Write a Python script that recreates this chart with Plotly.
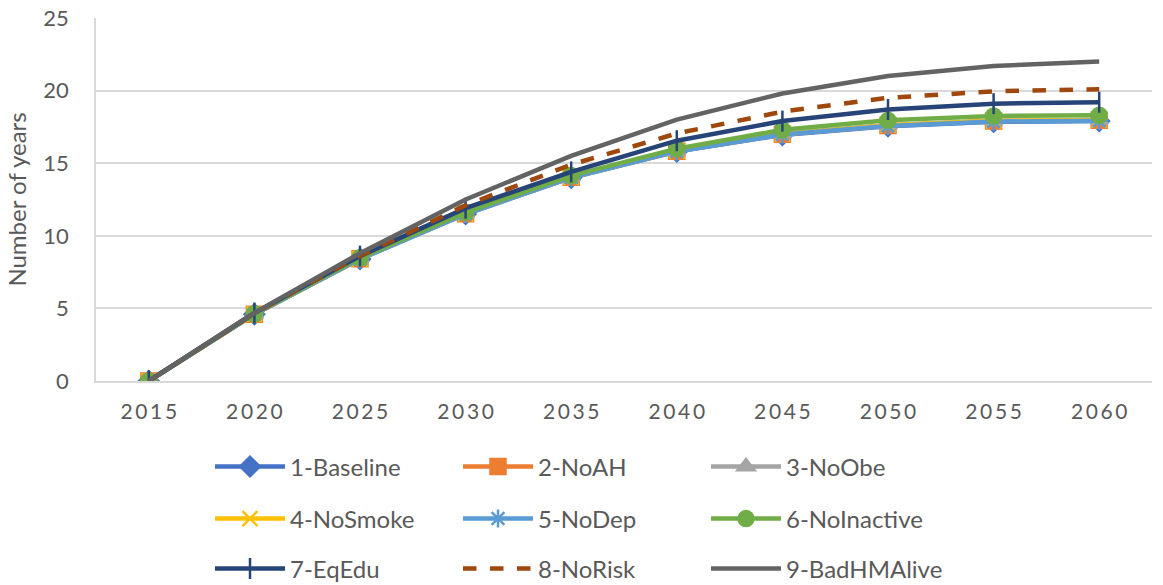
import plotly.graph_objects as go

years = [2015, 2020, 2025, 2030, 2035, 2040, 2045, 2050, 2055, 2060]
tick_labels = ["\u2009".join(str(y)) for y in years]

baseline   = [0, 4.60, 8.40, 11.50, 14.00, 15.80, 16.95, 17.55, 17.85, 17.90]
no_ah      = [0, 4.60, 8.42, 11.52, 14.03, 15.83, 17.00, 17.60, 17.90, 17.95]
no_obe     = [0, 4.60, 8.42, 11.53, 14.04, 15.85, 17.02, 17.62, 17.92, 17.97]
no_smoke   = [0, 4.60, 8.41, 11.52, 14.03, 15.84, 17.00, 17.62, 17.92, 17.97]
no_dep     = [0, 4.60, 8.40, 11.50, 14.01, 15.81, 16.97, 17.57, 17.87, 17.92]
no_inact   = [0, 4.63, 8.48, 11.62, 14.15, 16.00, 17.30, 17.95, 18.25, 18.30]
eq_edu     = [0, 4.68, 8.60, 11.90, 14.40, 16.55, 17.90, 18.70, 19.10, 19.20]
no_risk    = [0, 4.66, 8.62, 12.10, 14.90, 17.05, 18.55, 19.50, 19.95, 20.10]
bad_hm     = [0, 4.70, 8.80, 12.50, 15.50, 18.00, 19.80, 21.00, 21.70, 22.00]

series = [
    ("1-Baseline", baseline, "#4472C4", "diamond", "solid", "legend"),
    ("2-NoAH", no_ah, "#ED7D31", "square", "solid", "legend"),
    ("3-NoObe", no_obe, "#A5A5A5", "triangle-up", "solid", "legend"),
    ("4-NoSmoke", no_smoke, "#FFC000", "x-thin-open", "solid", "legend2"),
    ("5-NoDep", no_dep, "#5B9BD5", "asterisk-open", "solid", "legend2"),
    ("6-NoInactive", no_inact, "#70AD47", "circle", "solid", "legend2"),
    ("7-EqEdu", eq_edu, "#264478", "line-ns-open", "solid", "legend3"),
    ("8-NoRisk", no_risk, "#9E480E", None, "dash", "legend3"),
    ("9-BadHMAlive", bad_hm, "#636363", None, "solid", "legend3"),
]

fig = go.Figure()
for name, vals, color, sym, dash, leg in series:
    if sym is None:
        mode = "lines"
        marker = None
    else:
        mode = "lines+markers"
        marker = dict(symbol=sym, size=15, color=color,
                      line=dict(color=color, width=2.5))
    fig.add_trace(go.Scatter(
        x=years, y=vals, name=name, mode=mode,
        line=dict(color=color, width=4.5, dash=dash),
        marker=marker, legend=leg,
    ))

font_family = "Lato, 'Open Sans', sans-serif"
legend_common = dict(orientation="h", entrywidth=163, entrywidthmode="pixels",
                     xref="container", yref="container",
                     x=210 / 1163, xanchor="left", yanchor="middle",
                     font=dict(family=font_family, size=24, color="#595959"),
                     bgcolor="rgba(0,0,0,0)", itemwidth=70)

fig.update_layout(
    width=1163, height=585,
    margin=dict(l=96, r=11, t=18, b=204, autoexpand=False),
    paper_bgcolor="white", plot_bgcolor="white",
    font=dict(family=font_family, color="#595959"),
    showlegend=True,
    legend=dict(y=1 - 467 / 585, **legend_common),
    legend2=dict(y=1 - 519 / 585, **legend_common),
    legend3=dict(y=1 - 569 / 585, **legend_common),
    xaxis=dict(
        range=[2012.5, 2062.5], tickvals=years, ticktext=tick_labels,
        showgrid=False, zeroline=False, showline=True,
        linecolor="#d9d9d9", linewidth=1.5, automargin=False,
        ticks="", ticklabelstandoff=11,
        tickfont=dict(family=font_family, size=21, color="#595959"),
    ),
    yaxis=dict(
        range=[0, 25], tickvals=[0, 5, 10, 15, 20, 25],
        showgrid=True, gridcolor="#d9d9d9", gridwidth=1.5,
        zeroline=False, showline=True, linecolor="#d9d9d9", linewidth=1.5,
        ticks="", ticklabelstandoff=21, automargin=False,
        tickfont=dict(family=font_family, size=22, color="#595959"),
        title=dict(text="Number of years", standoff=10,
                   font=dict(family=font_family, size=24, color="#595959")),
    ),
)

fig.write_html("out.html", config={"displayModeBar": False},
               post_script="document.body.style.margin='0';document.body.style.padding='0';")
